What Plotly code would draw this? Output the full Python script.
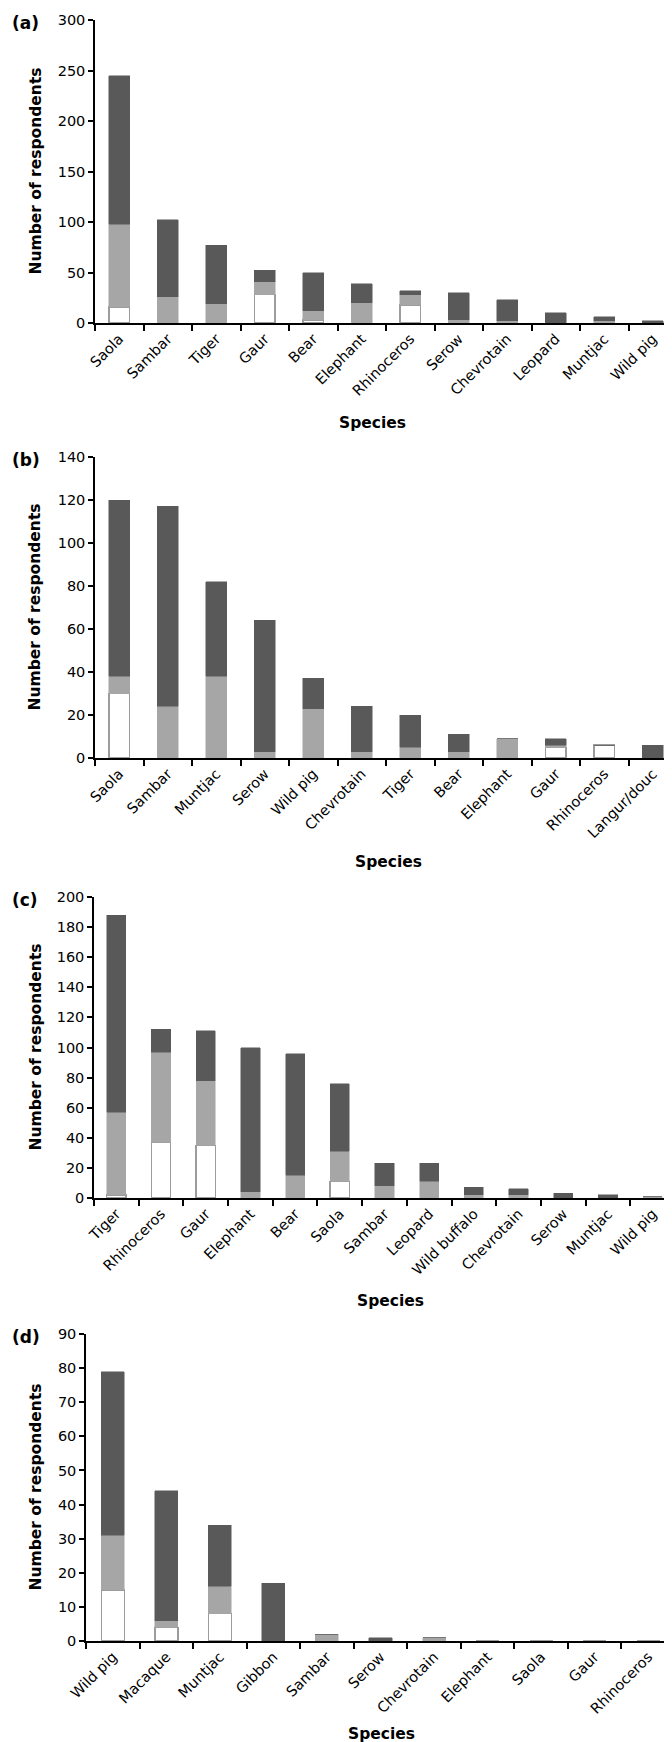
import plotly.graph_objects as go

W, H = 672, 1742
FONT = "DejaVu Sans"
DARK = "#595959"
GREY = "#a6a6a6"
EDGE = "#9c9c9c"

# ---------------- data ----------------
a_species = ["Saola", "Sambar", "Tiger", "Gaur", "Bear", "Elephant", "Rhinoceros",
             "Serow", "Chevrotain", "Leopard", "Muntjac", "Wild pig"]
a_white = [16, 0, 0, 28, 3, 0, 18, 0, 0, 0, 0, 0]
a_grey = [82, 26, 19, 13, 9, 20, 10, 3, 2, 0, 2, 0]
a_dark = [147, 76, 58, 11, 38, 19, 4, 27, 21, 10, 4, 2]

b_species = ["Saola", "Sambar", "Muntjac", "Serow", "Wild pig", "Chevrotain", "Tiger",
             "Bear", "Elephant", "Gaur", "Rhinoceros", "Langur/douc"]
b_white = [30, 0, 0, 0, 0, 0, 0, 0, 0, 5, 6, 0]
b_grey = [8, 24, 38, 3, 23, 3, 5, 3, 9, 1, 0, 0]
b_dark = [82, 93, 44, 61, 14, 21, 15, 8, 0, 3, 0, 6]

c_species = ["Tiger", "Rhinoceros", "Gaur", "Elephant", "Bear", "Saola", "Sambar",
             "Leopard", "Wild buffalo", "Chevrotain", "Serow", "Muntjac", "Wild pig"]
c_white = [2, 37, 35, 0, 0, 11, 0, 0, 0, 0, 0, 0, 0]
c_grey = [55, 60, 43, 4, 15, 20, 8, 11, 2, 2, 0, 0, 1]
c_dark = [131, 15, 33, 96, 81, 45, 15, 12, 5, 4, 3, 2, 0]

d_species = ["Wild pig", "Macaque", "Muntjac", "Gibbon", "Sambar", "Serow",
             "Chevrotain", "Elephant", "Saola", "Gaur", "Rhinoceros"]
d_white = [15, 4, 8, 0, 0, 0, 0, 0, 0, 0, 0]
d_grey = [16, 2, 8, 0, 2, 0, 1, 0, 0, 0, 0]
d_dark = [48, 38, 18, 17, 0, 1, 0, 0, 0, 0, 0]

panel_labels = ["(a)", "(b)", "(c)", "(d)"]
y_ranges = [[0, 300], [0, 140], [0, 200], [0, 90]]
y_dticks = [50, 20, 20, 10]

# ---------------- layout geometry (pixels) ----------------
geom = [
    dict(x0=87, x1=669, ytop=12, ybot=315, sx=364, sy=415),
    dict(x0=87, x1=669, ytop=449, ybot=750, sx=380, sy=854),
    dict(x0=86, x1=667, ytop=889, ybot=1190, sx=382, sy=1293),
    dict(x0=78, x1=667, ytop=1326, ybot=1633, sx=373, sy=1726),
]

data = [
    (a_species, a_white, a_grey, a_dark),
    (b_species, b_white, b_grey, b_dark),
    (c_species, c_white, c_grey, c_dark),
    (d_species, d_white, d_grey, d_dark),
]


def px(x):
    return x / W


def py(y):
    return 1 - y / H


fig = go.Figure()
annotations = []
layout = {}

for i, ((sp, wv, gv, dv), g) in enumerate(zip(data, geom)):
    xa = "x" if i == 0 else f"x{i+1}"
    ya = "y" if i == 0 else f"y{i+1}"
    xkey = "xaxis" if i == 0 else f"xaxis{i+1}"
    ykey = "yaxis" if i == 0 else f"yaxis{i+1}"

    fig.add_trace(go.Bar(x=sp, y=wv, xaxis=xa, yaxis=ya, name="white",
                         marker=dict(color="white", line=dict(color=EDGE, width=1.5)),
                         showlegend=False))
    fig.add_trace(go.Bar(x=sp, y=gv, xaxis=xa, yaxis=ya, name="light grey",
                         marker=dict(color=GREY, line=dict(color=GREY, width=0.5)),
                         showlegend=False))
    fig.add_trace(go.Bar(x=sp, y=dv, xaxis=xa, yaxis=ya, name="dark grey",
                         marker=dict(color=DARK, line=dict(color=DARK, width=0.5)),
                         showlegend=False))

    layout[xkey] = dict(
        domain=[px(g["x0"]), px(g["x1"])], anchor=ya, type="category",
        range=[-0.5, len(sp) - 0.5], tickangle=-45, tickson="boundaries",
        ticks="outside", ticklen=6, tickwidth=1.5, tickcolor="black",
        showline=True, linecolor="black", linewidth=1.5, showgrid=False,
        tickfont=dict(family=FONT, size=14.5, color="black"), automargin=False,
    )
    layout[ykey] = dict(
        domain=[py(g["ybot"]), py(g["ytop"])], anchor=xa,
        range=y_ranges[i], dtick=y_dticks[i], ticks="outside", ticklen=5,
        tickwidth=1.5, tickcolor="black", showline=True, linecolor="black",
        linewidth=1.5, showgrid=False, zeroline=False,
        tickfont=dict(family=FONT, size=14.5, color="black"), automargin=False,
    )

    annotations.append(dict(text=panel_labels[i], x=px(2), y=py(g["ytop"] + 3),
                            xref="paper", yref="paper", xanchor="left", yanchor="middle",
                            showarrow=False,
                            font=dict(family=FONT, size=17, color="black", weight="bold")))
    annotations.append(dict(text="Number of respondents", x=px(27),
                            y=py((g["ytop"] + g["ybot"]) / 2), xref="paper", yref="paper",
                            xanchor="center", yanchor="middle", textangle=-90,
                            showarrow=False,
                            font=dict(family=FONT, size=15.5, color="black", weight="bold")))
    annotations.append(dict(text="Species", x=px(g["sx"]), y=py(g["sy"]),
                            xref="paper", yref="paper", xanchor="center", yanchor="middle",
                            showarrow=False,
                            font=dict(family=FONT, size=15.5, color="black", weight="bold")))

fig.update_layout(
    width=W, height=H, autosize=False,
    margin=dict(l=0, r=0, t=0, b=0, pad=0),
    barmode="stack", bargap=0.57,
    paper_bgcolor="white", plot_bgcolor="white",
    annotations=annotations, showlegend=False,
    **layout,
)

fig.write_html("out.html")
